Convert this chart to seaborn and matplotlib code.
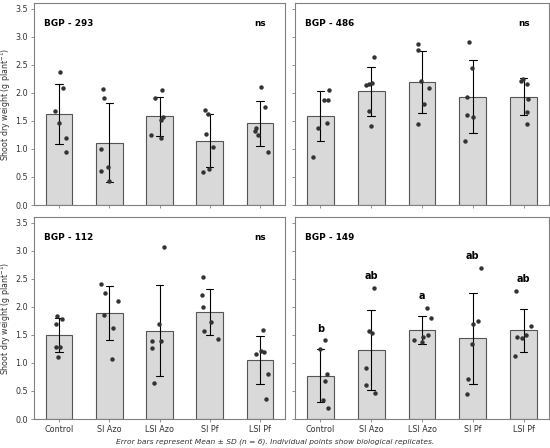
import numpy as np
import pandas as pd
import matplotlib
matplotlib.use("Agg")
import matplotlib.pyplot as plt
import seaborn as sns

categories = ["Control", "SI Azo", "LSI Azo", "SI Pf", "LSI Pf"]

bgp293 = [[2.37, 2.08, 1.68, 1.47, 1.19, 0.94],
          [2.06, 1.90, 0.99, 0.67, 0.60, 0.42],
          [2.05, 1.90, 1.56, 1.51, 1.25, 1.20],
          [1.70, 1.63, 1.26, 1.03, 0.65, 0.59],
          [2.10, 1.74, 1.38, 1.32, 1.24, 0.95]]
bgp486 = [[2.05, 1.88, 1.87, 1.47, 1.37, 0.86],
          [2.64, 2.18, 2.16, 2.13, 1.67, 1.40],
          [2.87, 2.77, 2.21, 2.08, 1.80, 1.44],
          [2.91, 2.45, 1.93, 1.60, 1.57, 1.14],
          [2.25, 2.21, 2.15, 1.89, 1.66, 1.44]]
bgp112 = [[1.83, 1.79, 1.69, 1.29, 1.29, 1.11],
          [2.41, 2.25, 2.11, 1.86, 1.63, 1.07],
          [3.07, 1.69, 1.39, 1.39, 1.26, 0.64],
          [2.53, 2.21, 1.99, 1.73, 1.56, 1.42],
          [1.59, 1.21, 1.19, 1.16, 0.81, 0.35]]
bgp149 = [[1.40, 1.24, 0.80, 0.67, 0.33, 0.20],
          [2.34, 1.56, 1.53, 0.91, 0.60, 0.46],
          [1.98, 1.80, 1.50, 1.47, 1.40, 1.37],
          [2.69, 1.75, 1.69, 1.33, 0.71, 0.44],
          [2.28, 1.66, 1.50, 1.46, 1.45, 1.12]]

panel_titles = ["BGP - 293", "BGP - 486", "BGP - 112", "BGP - 149"]
panel_data = [bgp293, bgp486, bgp112, bgp149]
panel_ns = ["ns", "ns", "ns", None]
letters149 = ["b", "ab", "a", "ab", "ab"]

sns.set_style("ticks")
plt.rcParams['font.family'] = ['DejaVu Sans']
np.random.seed(3)

fig = plt.figure(figsize=(5.5, 4.48), dpi=100)
W, H = 550, 448
boxes = [(34, 3, 251, 202), (295, 3, 254, 202), (34, 217, 251, 202), (295, 217, 254, 202)]

grey_text = "#333333"
spine_c = "#808080"

for i, (box, title, data) in enumerate(zip(boxes, panel_titles, panel_data)):
    x0, y0, w, h = box
    ax = fig.add_axes([x0 / W, 1 - (y0 + h) / H, w / W, h / H])
    rows = []
    for cat, vals in zip(categories, data):
        for v in vals:
            rows.append({"Treatment": cat, "value": v})
    df = pd.DataFrame(rows)
    sns.barplot(data=df, x="Treatment", y="value", order=categories, ax=ax,
                errorbar="sd", color="#d9d9d9", saturation=1, width=0.53,
                edgecolor="#555555", linewidth=0.8, capsize=0.15,
                err_kws={"color": "black", "linewidth": 0.8})
    sns.stripplot(data=df, x="Treatment", y="value", order=categories, ax=ax,
                  color="#333333", size=3.2, jitter=0.18, zorder=5)
    ax.set_ylim(0, 3.6)
    ax.set_xlim(-0.5, 4.5)
    ax.set_yticks(np.arange(0, 3.51, 0.5))
    ax.set_xlabel("")
    for s in ax.spines.values():
        s.set_color(spine_c)
        s.set_linewidth(0.8)
    ax.tick_params(axis="both", labelsize=5.8, colors=spine_c, labelcolor=grey_text,
                   length=2.5, width=0.6, pad=2)
    if i in (0, 2):
        ax.set_ylabel("Shoot dry weight (g plant$^{-1}$)", fontsize=5.7, color=grey_text)
        ax.yaxis.set_label_coords(-0.083, 0.5)
    else:
        ax.set_ylabel("")
        ax.set_yticklabels([])
    if i in (0, 1):
        ax.set_xticklabels([])
    ax.text(0.04, 0.90, title, transform=ax.transAxes, fontsize=6.4,
            fontweight="bold", va="center", ha="left", color="black")
    if panel_ns[i]:
        ax.text(0.90, 0.90, panel_ns[i], transform=ax.transAxes, fontsize=6.4,
                fontweight="bold", va="center", ha="center", color="black")
    if i == 3:
        for k, (vals, let) in enumerate(zip(data, letters149)):
            ax.text(k, max(vals) + 0.12, let, ha="center", va="bottom",
                    fontsize=7, fontweight="bold", color="black")

fig.text(0.5, 1 - 442 / H,
         "Error bars represent Mean \u00b1 SD (n = 6). Individual points show biological replicates.",
         ha="center", va="center", fontsize=5.4, style="italic", color=grey_text)

fig.savefig("out.png", dpi=100)
